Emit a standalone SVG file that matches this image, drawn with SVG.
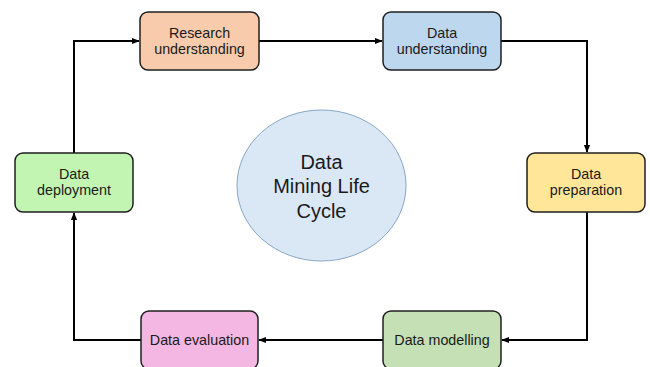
<svg xmlns="http://www.w3.org/2000/svg" width="650" height="367" viewBox="0 0 650 367">
  <style>
    .box { stroke: #1f1f1f; stroke-width: 1.5; }
    .lbl { font-family: "Liberation Sans", Arial, sans-serif; font-size: 14.3px; fill: #1a1a1a; text-anchor: middle; }
    .big { font-family: "Liberation Sans", Arial, sans-serif; font-size: 20px; fill: #1a1a1a; text-anchor: middle; }
    .edge { fill: none; stroke: #000; stroke-width: 2; marker-end: url(#arrow); }
  </style>
  <defs>
    <marker id="arrow" viewBox="0 0 10 10" refX="9" refY="5" markerWidth="4" markerHeight="4" orient="auto">
      <path d="M0,1 L10,5 L0,9 z" fill="#000"/>
    </marker>
  </defs>
  <rect width="650" height="367" fill="#fff"/>

  <g id="connectors">
    <path class="edge" d="M74,153 V41 H139"/>
    <path class="edge" d="M259,41 H382"/>
    <path class="edge" d="M501,41 H587 V152"/>
    <path class="edge" d="M587,212 V340 H502"/>
    <path class="edge" d="M383,340 H259"/>
    <path class="edge" d="M141,340 H74 V213"/>
  </g>

  <g id="center">
    <ellipse cx="321.5" cy="185.5" rx="84.5" ry="75.5" fill="#dae8f5" stroke="#87a6c6" stroke-width="1"/>
    <text class="big" x="321.5" y="168.5">Data</text>
    <text class="big" x="321.5" y="193">Mining Life</text>
    <text class="big" x="321.5" y="217.5">Cycle</text>
  </g>

  <g id="research">
    <rect class="box" x="140" y="12" width="119" height="58" rx="8" fill="#f8cbad"/>
    <text class="lbl" x="199.5" y="38">Research</text>
    <text class="lbl" x="199.5" y="53.5">understanding</text>
  </g>

  <g id="data-understanding">
    <rect class="box" x="383" y="12" width="118" height="58" rx="8" fill="#bdd7ee"/>
    <text class="lbl" x="442" y="38">Data</text>
    <text class="lbl" x="442" y="53.5">understanding</text>
  </g>

  <g id="data-preparation">
    <rect class="box" x="527" y="153" width="118" height="59" rx="8" fill="#ffe699"/>
    <text class="lbl" x="586" y="179">Data</text>
    <text class="lbl" x="586" y="195">preparation</text>
  </g>

  <g id="data-modelling">
    <rect class="box" x="383" y="311" width="118" height="58" rx="8" fill="#c5e0b4"/>
    <text class="lbl" x="442" y="345">Data modelling</text>
  </g>

  <g id="data-evaluation">
    <rect class="box" x="141" y="311" width="117" height="58" rx="8" fill="#f4b6e2"/>
    <text class="lbl" x="199.5" y="345">Data evaluation</text>
  </g>

  <g id="data-deployment">
    <rect class="box" x="15" y="153" width="118" height="59" rx="8" fill="#c2f5b2"/>
    <text class="lbl" x="74" y="179">Data</text>
    <text class="lbl" x="74" y="195">deployment</text>
  </g>
</svg>
